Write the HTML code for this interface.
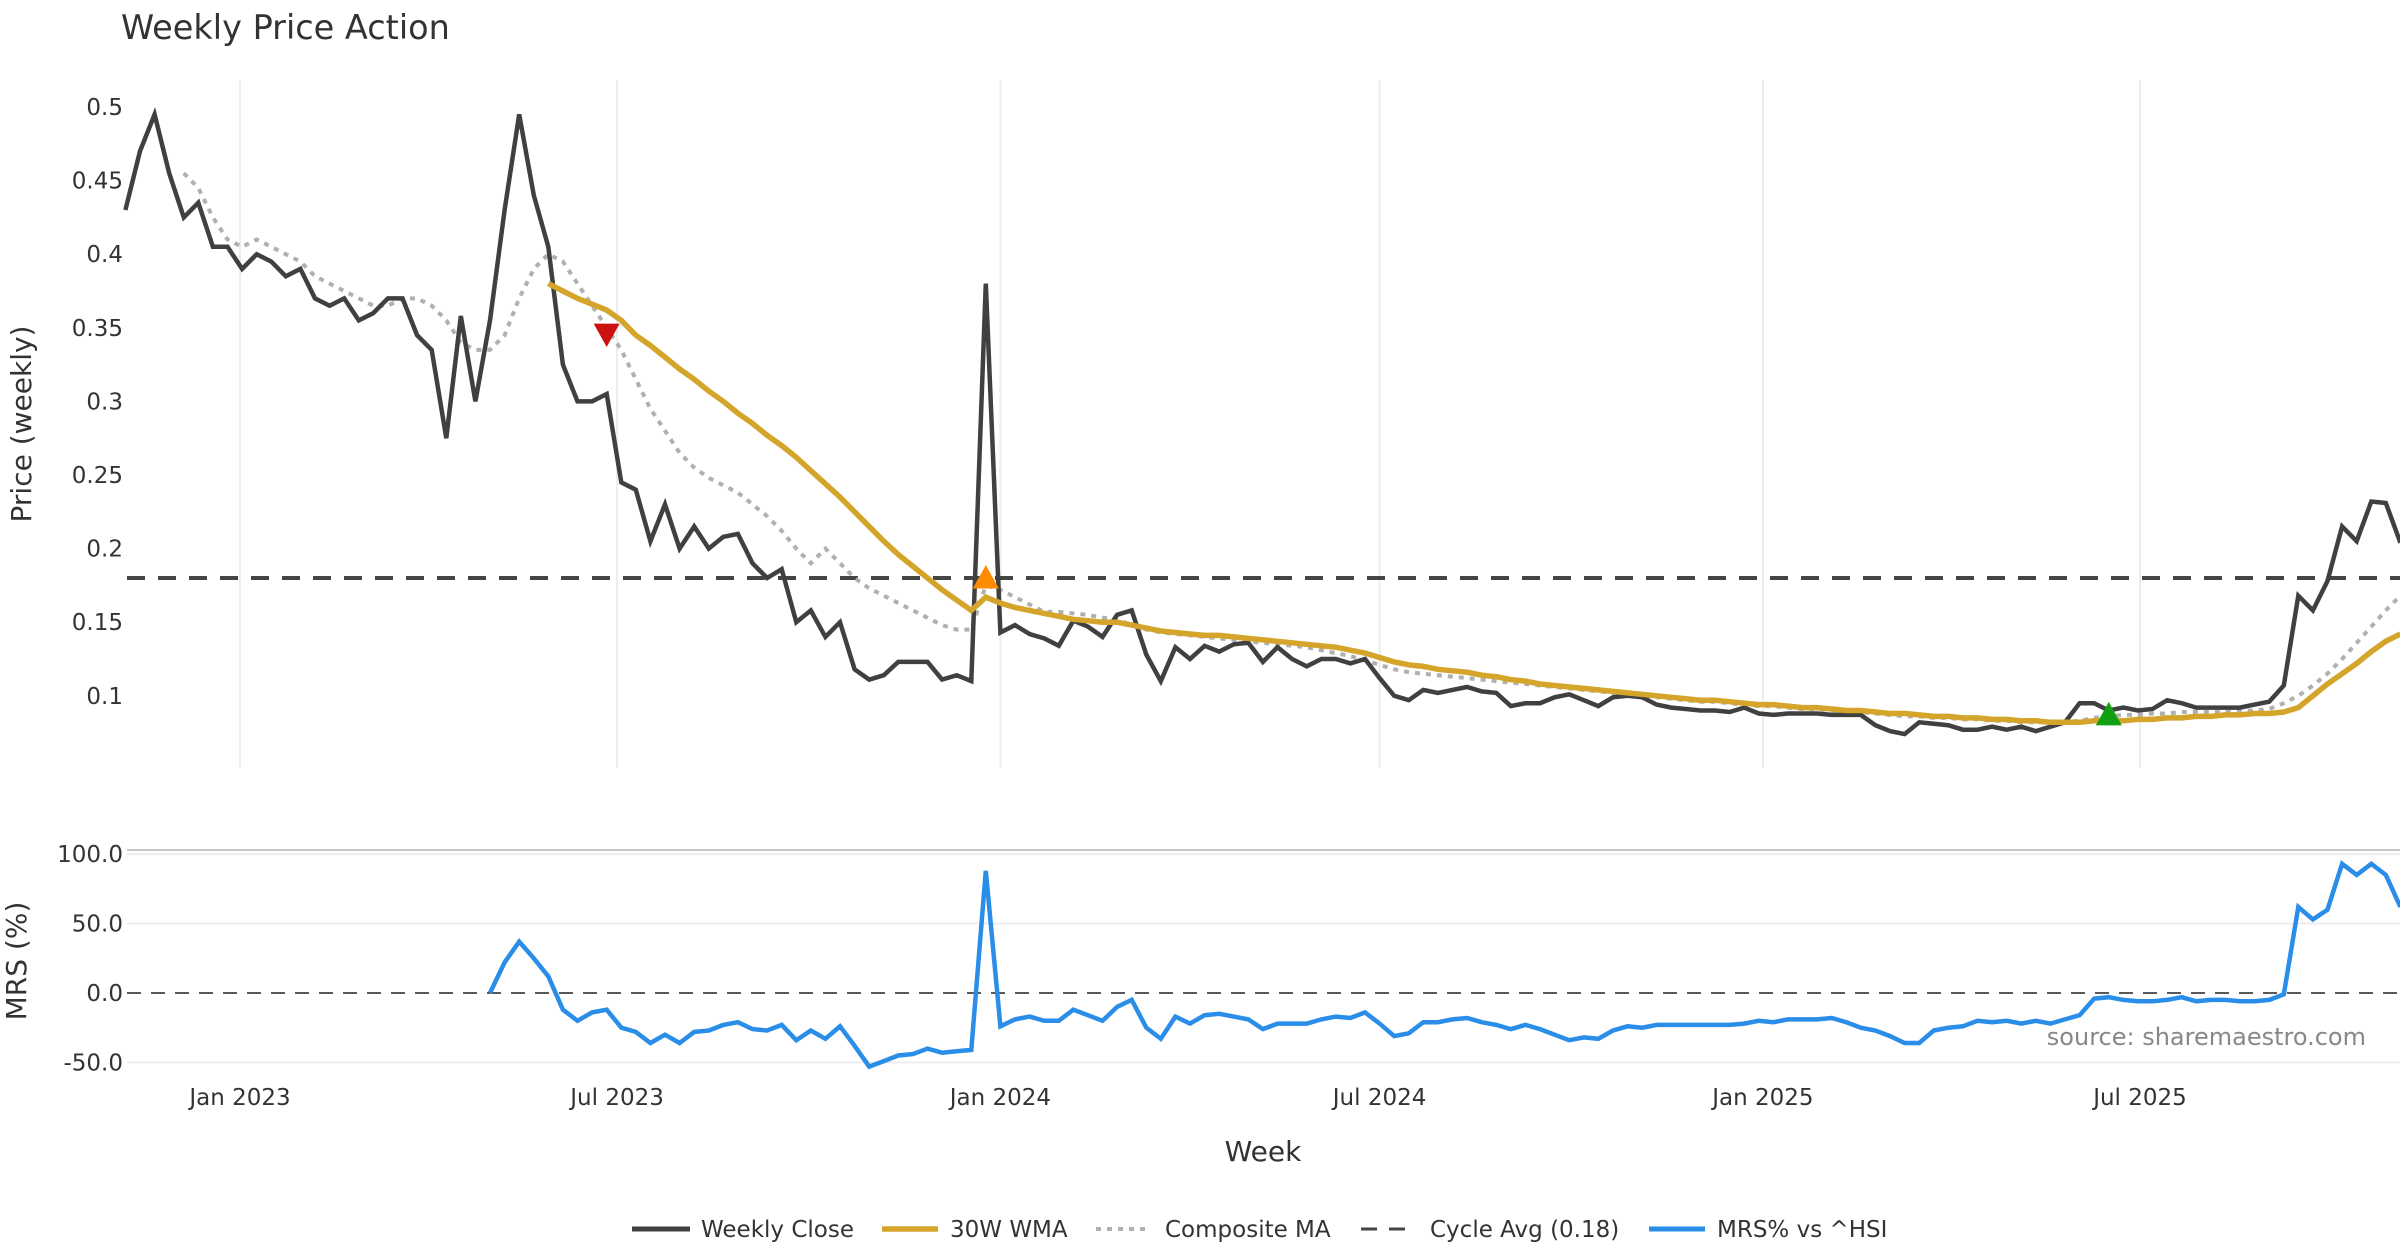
<!DOCTYPE html>
<html><head><meta charset="utf-8"><style>
html,body{margin:0;padding:0;background:#fff;}
svg{display:block;font-family:"DejaVu Sans","Liberation Sans",sans-serif;}
</style></head><body>
<svg id="chart" width="2400" height="1260" viewBox="0 0 2400 1260">
<text x="121" y="39" font-size="33.5" fill="#333">Weekly Price Action</text>
<g id="grid"></g>
<g id="axes"></g>
<g id="series"></g>
<text x="0" y="0" transform="translate(31,424) rotate(-90)" text-anchor="middle" font-size="28" fill="#333">Price (weekly)</text>
<text x="0" y="0" transform="translate(26,961) rotate(-90)" text-anchor="middle" font-size="28" fill="#333">MRS (%)</text>
<text x="1263" y="1161" text-anchor="middle" font-size="28" fill="#333">Week</text>
<text x="2366" y="1045" text-anchor="end" font-size="24" fill="#888">source: sharemaestro.com</text>
<g id="legend"></g>
</svg>
<script>
const closeVals=[0.43,0.47,0.495,0.455,0.425,0.435,0.405,0.405,0.39,0.40,
0.395,0.385,0.39,0.37,0.365,0.37,0.355,0.36,0.37,0.37,
0.345,0.335,0.275,0.358,0.30,0.355,0.43,0.495,0.44,0.405,
0.325,0.30,0.30,0.305,0.245,0.24,0.205,0.23,0.20,0.215,
0.20,0.208,0.21,0.19,0.18,0.186,0.15,0.158,0.14,0.15,
0.118,0.111,0.114,0.123,0.123,0.123,0.111,0.114,0.11,0.38,
0.143,0.148,0.142,0.139,0.134,0.151,0.147,0.14,0.155,0.158,
0.128,0.11,0.133,0.125,0.134,0.13,0.135,0.136,0.123,0.133,
0.125,0.12,0.125,0.125,0.122,0.125,0.112,0.1,0.097,0.104,
0.102,0.104,0.106,0.103,0.102,0.093,0.095,0.095,0.099,0.101,
0.097,0.093,0.099,0.1,0.099,0.094,0.092,0.091,0.09,0.09,
0.089,0.092,0.088,0.087,0.088,0.088,0.088,0.087,0.087,0.087,
0.08,0.076,0.074,0.082,0.081,0.08,0.077,0.077,0.079,0.077,
0.079,0.076,0.079,0.082,0.095,0.095,0.09,0.092,0.09,0.091,
0.097,0.095,0.092,0.092,0.092,0.092,0.094,0.096,0.107,0.168,
0.158,0.178,0.215,0.205,0.232,0.231,0.204];
const compositeVals=[null,null,null,null,0.455,0.445,0.425,0.41,0.405,0.41,
0.405,0.40,0.395,0.385,0.38,0.375,0.37,0.365,0.365,0.37,
0.37,0.365,0.355,0.34,0.335,0.335,0.345,0.37,0.39,0.40,
0.395,0.38,0.365,0.35,0.335,0.315,0.295,0.28,0.265,0.255,
0.248,0.243,0.238,0.23,0.222,0.212,0.20,0.19,0.20,0.19,
0.18,0.173,0.168,0.163,0.158,0.153,0.148,0.145,0.145,0.175,
0.172,0.167,0.162,0.157,0.157,0.156,0.155,0.153,0.152,0.148,
0.145,0.143,0.142,0.141,0.140,0.139,0.138,0.137,0.136,0.135,
0.134,0.133,0.131,0.129,0.127,0.124,0.121,0.118,0.116,0.115,
0.114,0.113,0.112,0.111,0.110,0.109,0.108,0.107,0.106,0.105,
0.104,0.103,0.102,0.101,0.100,0.099,0.098,0.097,0.096,0.096,
0.095,0.094,0.093,0.093,0.092,0.091,0.091,0.090,0.089,0.089,
0.088,0.087,0.086,0.086,0.085,0.085,0.084,0.084,0.083,0.083,
0.082,0.082,0.082,0.082,0.083,0.085,0.086,0.087,0.087,0.088,
0.088,0.089,0.089,0.089,0.089,0.090,0.090,0.091,0.095,0.10,
0.107,0.115,0.125,0.136,0.147,0.158,0.168];
const wmaVals=[null,null,null,null,null,null,null,null,null,null,
null,null,null,null,null,null,null,null,null,null,
null,null,null,null,null,null,null,null,null,0.38,
0.375,0.37,0.366,0.362,0.355,0.345,0.338,0.33,0.322,0.315,
0.307,0.30,0.292,0.285,0.277,0.27,0.262,0.253,0.244,0.235,
0.225,0.215,0.205,0.196,0.188,0.18,0.172,0.165,0.158,0.167,
0.163,0.16,0.158,0.156,0.154,0.152,0.151,0.150,0.150,0.148,
0.146,0.144,0.143,0.142,0.141,0.141,0.140,0.139,0.138,0.137,
0.136,0.135,0.134,0.133,0.131,0.129,0.126,0.123,0.121,0.120,
0.118,0.117,0.116,0.114,0.113,0.111,0.110,0.108,0.107,0.106,
0.105,0.104,0.103,0.102,0.101,0.100,0.099,0.098,0.097,0.097,
0.096,0.095,0.094,0.094,0.093,0.092,0.092,0.091,0.090,0.090,
0.089,0.088,0.088,0.087,0.086,0.086,0.085,0.085,0.084,0.084,
0.083,0.083,0.082,0.082,0.082,0.083,0.083,0.083,0.084,0.084,
0.085,0.085,0.086,0.086,0.087,0.087,0.088,0.088,0.089,0.092,
0.10,0.108,0.115,0.122,0.13,0.137,0.142];
const mrsVals=[null,null,null,null,null,null,null,null,null,null,
null,null,null,null,null,null,null,null,null,null,
null,null,null,null,null,0,22,37,25,12,
-12,-20,-14,-12,-25,-28,-36,-30,-36,-28,
-27,-23,-21,-26,-27,-23,-34,-27,-33,-24,
-38,-53,-49,-45,-44,-40,-43,-42,-41,88,
-24,-19,-17,-20,-20,-12,-16,-20,-10,-5,
-25,-33,-17,-22,-16,-15,-17,-19,-26,-22,
-22,-22,-19,-17,-18,-14,-22,-31,-29,-21,
-21,-19,-18,-21,-23,-26,-23,-26,-30,-34,
-32,-33,-27,-24,-25,-23,-23,-23,-23,-23,
-23,-22,-20,-21,-19,-19,-19,-18,-21,-25,
-27,-31,-36,-36,-27,-25,-24,-20,-21,-20,
-22,-20,-22,-19,-16,-4,-3,-5,-6,-6,
-5,-3,-6,-5,-5,-6,-6,-5,-1,62,
53,60,93,85,93,85,62];
const signalIdx=[33,59,136];
const signalPrice=[0.344,0.18,0.087];
const signalKind=['down','up','up'];
const signalColor=['#cc1111','#ff8c00','#11a011'];
const cycleAvg=0.18;
const priceTicks=[0.1,0.15,0.2,0.25,0.3,0.35,0.4,0.45,0.5];
const priceTickLabels=['0.1','0.15','0.2','0.25','0.3','0.35','0.4','0.45','0.5'];
const mrsTicks=[-50,0,50,100];
const mrsTickLabels=['-50.0','0.0','50.0','100.0'];
const dateTicks=['2023-01-01','2023-07-01','2024-01-01','2024-07-01','2025-01-01','2025-07-01'];
const dateTickLabels=['Jan 2023','Jul 2023','Jan 2024','Jul 2024','Jan 2025','Jul 2025'];
const startDate='2022-11-07';

const NS='http://www.w3.org/2000/svg';
const DAY=86400000;
const d0=Date.parse('2023-01-01');
function xDate(ms){return 240+(ms-d0)/DAY*(1900/912);}
function xIdx(i){return xDate(Date.parse(startDate)+i*7*DAY);}
function yP(p){return 107+(0.5-p)*1472;}
function yM(v){return 993-v*1.389;}
function mk(tag,attrs,parent){const e=document.createElementNS(NS,tag);for(const k in attrs)e.setAttribute(k,attrs[k]);parent.appendChild(e);return e;}
const grid=document.getElementById('grid'),axes=document.getElementById('axes'),series=document.getElementById('series'),legend=document.getElementById('legend');

dateTicks.forEach((d,i)=>{
  const x=xDate(Date.parse(d));
  const g=mk('line',{x1:x,x2:x,y1:80,y2:768,stroke:'#ececf0','stroke-width':2},grid);
  
  
  const t=mk('text',{x:x,y:1105,'text-anchor':'middle','font-size':23,fill:'#333'},axes);
  t.textContent=dateTickLabels[i];
  
  
});
priceTicks.forEach((p,i)=>{
  const t=mk('text',{x:123,y:yP(p)+8,'text-anchor':'end','font-size':23,fill:'#333'},axes);
  t.textContent=priceTickLabels[i];
  
  
});
const border=mk('line',{x1:127,x2:2400,y1:850,y2:850,stroke:'#c8c8c8','stroke-width':2},grid);


mrsTicks.forEach((v,i)=>{
  if(v!==0){const g=mk('line',{x1:127,x2:2400,y1:yM(v),y2:yM(v),stroke:'#ececf0','stroke-width':2},grid);
  
  }
  const t=mk('text',{x:123,y:yM(v)+8,'text-anchor':'end','font-size':23,fill:'#333'},axes);
  t.textContent=mrsTickLabels[i];
  
  
});
const zl=mk('line',{x1:127,x2:2400,y1:yM(0),y2:yM(0),stroke:'#222','stroke-width':1.6,'stroke-dasharray':'14,10'},grid);


const ca=mk('line',{x1:127,x2:2400,y1:yP(cycleAvg),y2:yP(cycleAvg),stroke:'#444','stroke-width':4,'stroke-dasharray':'18,13'},series);



function pathFor(arr,yf){let d='',pen=false;arr.forEach((v,i)=>{if(v===null||v===undefined){pen=false;return;}d+=(pen?'L':'M')+xIdx(i).toFixed(1)+','+yf(v).toFixed(1);pen=true;});return d;}
const comp=mk('path',{d:pathFor(compositeVals,yP),fill:'none',stroke:'#b0b0b0','stroke-width':4,'stroke-dasharray':'5,6'},series);


const cl=mk('path',{d:pathFor(closeVals,yP),fill:'none',stroke:'#404040','stroke-width':4.5,'stroke-linejoin':'miter'},series);


const wm=mk('path',{d:pathFor(wmaVals,yP),fill:'none',stroke:'#d4a52a','stroke-width':5.5},series);


const mr=mk('path',{d:pathFor(mrsVals,yM),fill:'none',stroke:'#2a8ee8','stroke-width':4.5},series);


signalIdx.forEach((idx,i)=>{
  const x=xIdx(idx),y=yP(signalPrice[i]),s=13;
  const pts=signalKind[i]==='down'?`${x-s},${y-s} ${x+s},${y-s} ${x},${y+s*0.8}`:`${x-s},${y+s*0.8} ${x+s},${y+s*0.8} ${x},${y-s}`;
  const m=mk('polygon',{points:pts,fill:signalColor[i]},series);
  
  
});
const legItems=[
 {label:'Weekly Close',x1:632,x2:690,tx:701,stroke:'#404040',dash:null,w:5},
 {label:'30W WMA',x1:882,x2:938,tx:950,stroke:'#d4a52a',dash:null,w:5.5},
 {label:'Composite MA',x1:1096,x2:1151,tx:1165,stroke:'#b0b0b0',dash:'5,6',w:4},
 {label:'Cycle Avg (0.18)',x1:1361,x2:1416,tx:1430,stroke:'#444',dash:'16,12',w:3},
 {label:'MRS% vs ^HSI',x1:1649,x2:1705,tx:1717,stroke:'#2a8ee8',dash:null,w:5}];
legItems.forEach(it=>{
  const g=mk('g',{},legend);
  
  
  const a={x1:it.x1,x2:it.x2,y1:1229,y2:1229,stroke:it.stroke,'stroke-width':it.w};
  if(it.dash)a['stroke-dasharray']=it.dash;
  mk('line',a,g);
  const t=mk('text',{x:it.tx,y:1237,'font-size':23,fill:'#333'},g);
  t.textContent=it.label;
});
</script>
</body></html>
